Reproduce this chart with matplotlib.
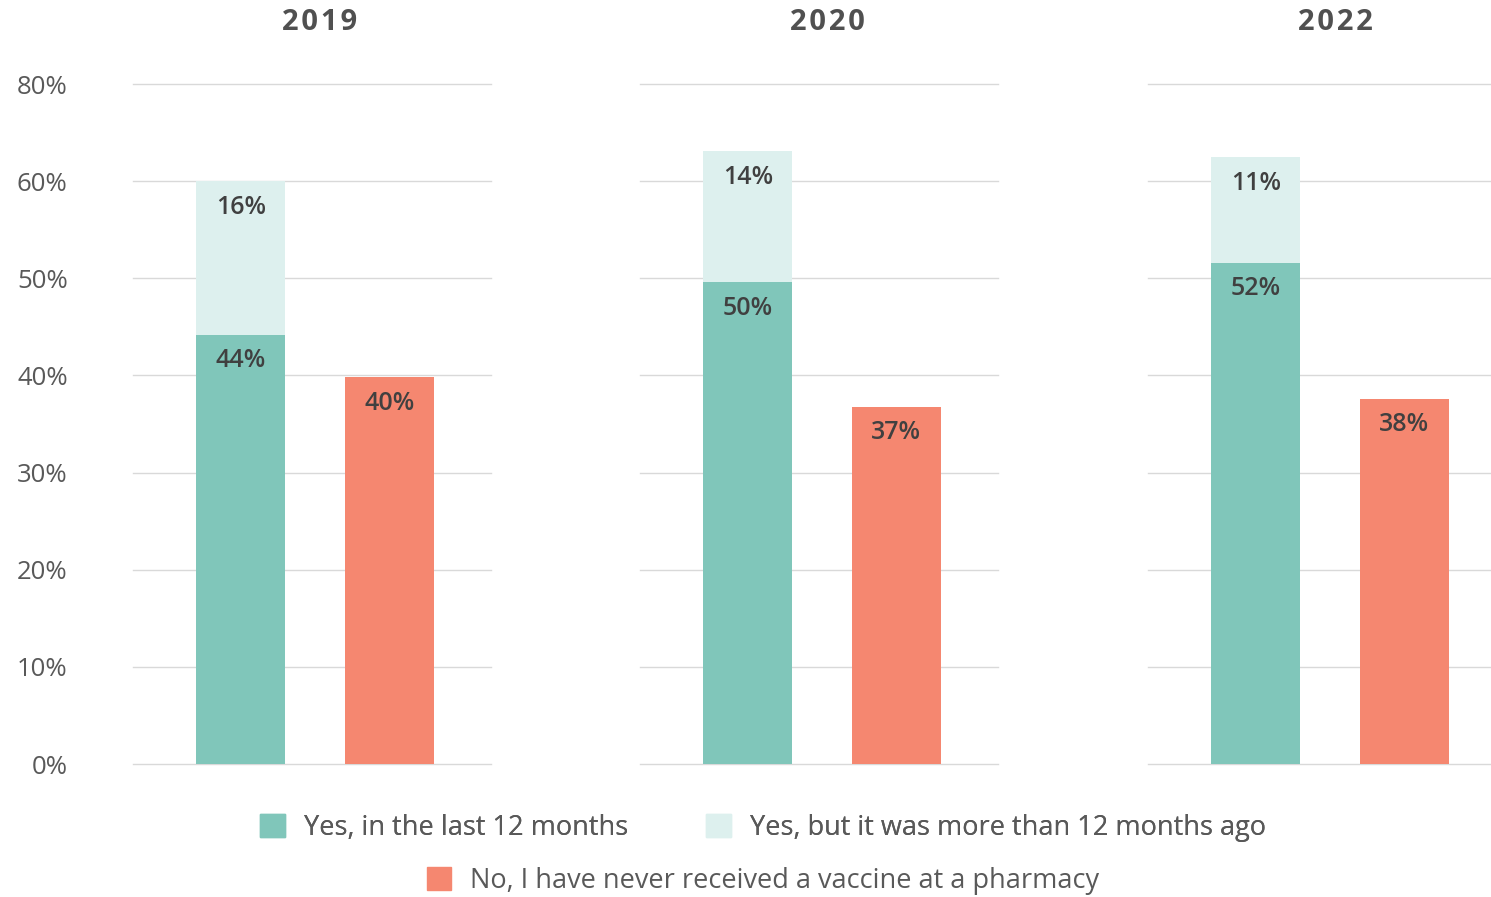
import matplotlib.pyplot as plt
import numpy as np

years = ["2019", "2020", "2022"]
last_12 = [44.2, 49.6, 51.6]
more_than_12 = [15.8, 13.5, 10.9]
never = [39.8, 36.8, 37.6]

series_names = [
    "Yes, in the last 12 months",
    "Yes, but it was more than 12 months ago",
    "No, I have never received a vaccine at a pharmacy",
]
ytick_values = [0, 10, 20, 30, 40, 50, 60, 70]
ytick_labels = ["0%", "10%", "20%", "30%", "40%", "50%", "60%", "80%"]

teal = "#80C6BA"
light = "#DDF0EE"
red = "#F58770"
label_color = "#404040"
tick_color = "#595959"

plt.rcParams["font.family"] = ["Open Sans", "DejaVu Sans"]

W, H = 1491, 897
fig = plt.figure(figsize=(W / 100, H / 100), dpi=100)

panel_left = [133, 640, 1148]
panel_w = 358
bottom, top = 764, 84

for i, year in enumerate(years):
    ax = fig.add_axes([panel_left[i] / W, (H - bottom) / H, panel_w / W, (bottom - top) / H])
    ax.bar(0, last_12[i], width=0.6, color=teal, zorder=2)
    ax.bar(0, more_than_12[i], bottom=last_12[i], width=0.6, color=light, zorder=2)
    ax.bar(1, never[i], width=0.6, color=red, zorder=2)

    # value labels just under the top of each segment
    labels = [(0, last_12[i], last_12[i]),
              (0, last_12[i] + more_than_12[i], more_than_12[i]),
              (1, never[i], never[i])]
    for x, y, v in labels:
        ax.text(x, y - 2.7, f"{v:.0f}%", ha="center", va="center",
                fontsize=18, color=label_color, fontweight="semibold", zorder=3)

    ax.set_xlim(-0.727, 1.684)
    ax.set_ylim(0, 70)
    ax.set_yticks(ytick_values)
    ax.yaxis.grid(True, color="#D9D9D9", linewidth=1, zorder=0)
    for gl in ax.get_ygridlines():
        gl.set_clip_on(False)
    ax.set_xticks([])
    for s in ax.spines.values():
        s.set_visible(False)
    ax.tick_params(axis="y", length=0, pad=47, labelsize=18.5, labelcolor=tick_color)
    if i == 0:
        ax.set_yticklabels(ytick_labels)
    else:
        ax.set_yticklabels([])
    ax.text(0.5 + 8 / panel_w, 1 + 62 / (bottom - top), "\u200a".join(year),
            transform=ax.transAxes, ha="center", va="center",
            fontsize=21, fontweight="bold", color="#505050")

# legend: two entries on the first row, one centred on the second
handles = [plt.Rectangle((0, 0), 1, 1, color=c) for c in (teal, light, red)]
leg_kw = dict(loc="center", frameon=False, fontsize=19.5, handlelength=0.9,
              handleheight=0.9, handletextpad=0.7, labelcolor=tick_color)
leg1 = fig.legend(handles[:2], series_names[:2], ncol=2,
                  bbox_to_anchor=(763 / W, (H - 828) / H), columnspacing=2.9, **leg_kw)
fig.legend(handles[2:], series_names[2:],
           bbox_to_anchor=(763 / W, (H - 881) / H), **leg_kw)
fig.add_artist(leg1)

fig.savefig("out.png", dpi=100)
